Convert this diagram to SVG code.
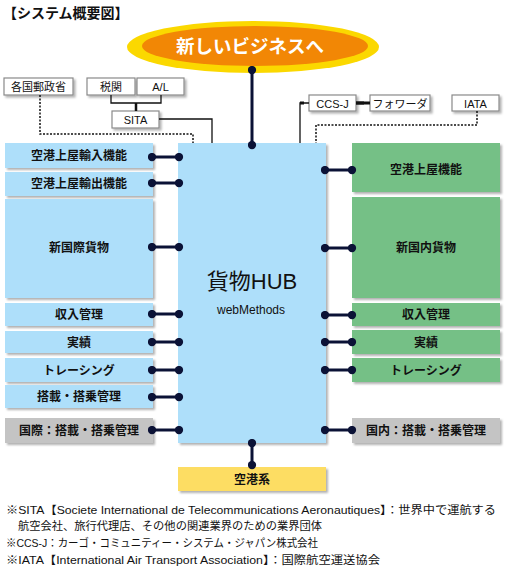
<svg xmlns="http://www.w3.org/2000/svg" width="510" height="570" viewBox="0 0 510 570">
<defs>
<filter id="sh" x="-10%" y="-10%" width="130%" height="140%">
<feDropShadow dx="2" dy="2" stdDeviation="1.2" flood-color="#000" flood-opacity="0.3"/>
</filter>
<marker id="dot" viewBox="0 0 10 10" refX="5" refY="5" markerWidth="3" markerHeight="3" markerUnits="strokeWidth">
<circle cx="5" cy="5" r="4.6" fill="#0b1236"/>
</marker>
</defs>
<style>
text{font-family:"Liberation Sans","Noto Sans CJK JP",sans-serif;fill:#111;}
.lbl{font-size:12px;font-weight:bold;text-anchor:middle;}
.sm{font-size:11px;text-anchor:middle;}
.note{font-size:11px;}
.blue{fill:#aedffa;filter:url(#sh);}
.green{fill:#74c086;filter:url(#sh);}
.gray{fill:#c4c4c4;filter:url(#sh);}
.yel{fill:#fddd63;filter:url(#sh);}
.wbox{fill:#fff;stroke:#8a8a8a;stroke-width:1.2;filter:url(#sh);}
.link{stroke:#0b1236;stroke-width:3;fill:none;marker-start:url(#dot);marker-end:url(#dot);}
.thin{stroke:#111;stroke-width:1.3;fill:none;}
.dash{stroke:#111;stroke-width:1.5;fill:none;stroke-dasharray:2 1.5;}
</style>
<rect width="510" height="570" fill="#fff"/>
<text x="3" y="18" style="font-size:14px;font-weight:bold;">【システム概要図】</text>

<g id="goal">
<ellipse cx="253" cy="47" rx="126" ry="26" fill="#fbd800"/>
<ellipse cx="255" cy="46" rx="113" ry="20" fill="#f28705"/>
<text x="250" y="53" style="font-size:18.5px;font-weight:bold;text-anchor:middle;fill:#fff;">新しいビジネスへ</text>
</g>

<g id="hub"><rect x="178" y="143" width="148" height="300" class="blue"/>
<text x="252" y="289" style="font-size:22px;text-anchor:middle;">貨物HUB</text>
<text x="251" y="314" style="font-size:12px;text-anchor:middle;">webMethods</text></g>

<g id="l1"><rect x="5" y="143" width="148" height="25" class="blue"/><text x="79" y="160" class="lbl">空港上屋輸入機能</text></g>
<g id="l2"><rect x="5" y="172" width="148" height="24" class="blue"/><text x="79" y="188" class="lbl">空港上屋輸出機能</text></g>
<g id="l3"><rect x="5" y="199" width="148" height="99" class="blue"/><text x="79" y="252" class="lbl">新国際貨物</text></g>
<g id="l4"><rect x="5" y="303" width="148" height="23" class="blue"/><text x="79" y="319" class="lbl">収入管理</text></g>
<g id="l5"><rect x="5" y="331" width="148" height="22" class="blue"/><text x="79" y="347" class="lbl">実績</text></g>
<g id="l6"><rect x="5" y="358" width="148" height="24" class="blue"/><text x="79" y="375" class="lbl">トレーシング</text></g>
<g id="l7"><rect x="5" y="385" width="148" height="23" class="blue"/><text x="79" y="401" class="lbl">搭載・搭乗管理</text></g>
<g id="l8"><rect x="5" y="418" width="148" height="25" class="gray"/><text x="79" y="435" class="lbl">国際：搭載・搭乗管理</text></g>

<g id="r1"><rect x="352" y="143" width="148" height="49" class="green"/><text x="426" y="174" class="lbl">空港上屋機能</text></g>
<g id="r2"><rect x="352" y="197" width="148" height="101" class="green"/><text x="426" y="252" class="lbl">新国内貨物</text></g>
<g id="r3"><rect x="352" y="303" width="148" height="23" class="green"/><text x="426" y="319" class="lbl">収入管理</text></g>
<g id="r4"><rect x="352" y="330" width="148" height="24" class="green"/><text x="426" y="347" class="lbl">実績</text></g>
<g id="r5"><rect x="352" y="358" width="148" height="24" class="green"/><text x="426" y="375" class="lbl">トレーシング</text></g>
<g id="r6"><rect x="352" y="418" width="148" height="25" class="gray"/><text x="426" y="435" class="lbl">国内：搭載・搭乗管理</text></g>

<g id="airport"><rect x="178" y="467" width="148" height="24" class="yel"/><text x="252" y="484" class="lbl">空港系</text></g>

<g id="post"><rect x="4" y="78" width="69" height="17" class="wbox"/><text x="38.5" y="91" class="sm">各国郵政省</text></g>
<g id="customs"><rect x="87" y="78" width="48" height="17" class="wbox"/><text x="111" y="91" class="sm">税関</text></g>
<g id="al"><rect x="137" y="78" width="47" height="17" class="wbox"/><text x="160.5" y="91" class="sm">A/L</text></g>
<g id="sita"><rect x="112" y="111" width="47" height="17" class="wbox"/><text x="135.5" y="124" class="sm">SITA</text></g>
<g id="ccsj"><rect x="309" y="95" width="47" height="16" class="wbox"/><text x="332.5" y="107.5" class="sm">CCS-J</text></g>
<g id="fwd"><rect x="370" y="95" width="60" height="16" class="wbox"/><text x="400" y="107.5" class="sm">フォワーダ</text></g>
<g id="iata"><rect x="452" y="95" width="47" height="16" class="wbox"/><text x="475.5" y="107.5" class="sm">IATA</text></g>

<g id="connectors">
<line x1="252" y1="70" x2="252" y2="145" class="link"/>
<line x1="152" y1="157" x2="179" y2="157" class="link"/>
<line x1="152" y1="183" x2="179" y2="183" class="link"/>
<line x1="152" y1="247" x2="179" y2="247" class="link"/>
<line x1="152" y1="314" x2="179" y2="314" class="link"/>
<line x1="152" y1="342" x2="179" y2="342" class="link"/>
<line x1="152" y1="370" x2="179" y2="370" class="link"/>
<line x1="152" y1="397" x2="179" y2="397" class="link"/>
<line x1="152" y1="430" x2="179" y2="430" class="link"/>
<line x1="325" y1="170" x2="352" y2="170" class="link"/>
<line x1="325" y1="248" x2="352" y2="248" class="link"/>
<line x1="325" y1="315" x2="352" y2="315" class="link"/>
<line x1="325" y1="342" x2="352" y2="342" class="link"/>
<line x1="325" y1="370" x2="352" y2="370" class="link"/>
<line x1="325" y1="430" x2="352" y2="430" class="link"/>
<line x1="252" y1="443" x2="252" y2="465" class="link"/>
<polyline points="111,95 111,103 161,103 161,95" class="thin"/>
<line x1="136" y1="103" x2="136" y2="111" stroke="#111" stroke-width="2.5"/>
<polyline points="159,119 212,119 212,143" class="thin"/>
<polyline points="40,95 40,134 193,134 193,143" class="dash"/>
<polyline points="309,103 300,103 300,143" class="thin"/>
<rect x="300" y="101.5" width="4" height="3" fill="#111"/>
<line x1="356" y1="103" x2="364" y2="103" stroke="#111" stroke-width="3.5"/>
<rect x="364" y="101.5" width="6" height="3" fill="#111"/>
<polyline points="477,111 477,125 316,125 316,143" class="dash"/>
</g>

<g id="notes">
<text x="6" y="514" class="note" textLength="490" lengthAdjust="spacingAndGlyphs">※SITA【Societe International de Telecommunications Aeronautiques】：世界中で運航する</text>
<text x="18" y="530" class="note" textLength="304" lengthAdjust="spacingAndGlyphs">航空会社、旅行代理店、その他の関連業界のための業界団体</text>
<text x="6" y="547" class="note" textLength="312" lengthAdjust="spacingAndGlyphs">※CCS-J：カーゴ・コミュニティー・システム・ジャパン株式会社</text>
<text x="6" y="564" class="note" textLength="374" lengthAdjust="spacingAndGlyphs">※IATA【International Air Transport Association】：国際航空運送協会</text>
</g>
</svg>
